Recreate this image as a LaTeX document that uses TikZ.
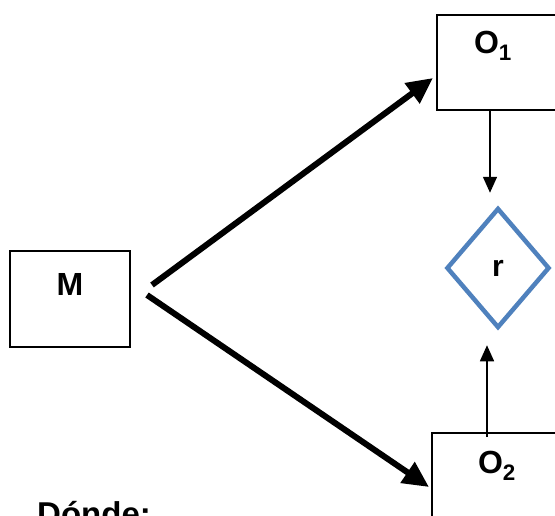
\documentclass[tikz,border=0pt]{standalone}
\usepackage{fontspec}
\setmainfont{Liberation Sans}
\usepackage{xcolor}
\usepackage{tikz}
\usetikzlibrary{calc}
\usetikzlibrary{arrows.meta}
\usetikzlibrary{shapes.geometric}
\definecolor{azul}{RGB}{79,129,189}
\tikzset{caja/.style={draw, line width=2pt, minimum width=120pt, minimum height=96pt, inner sep=0pt, outer sep=0pt}}

\begin{document}
\begin{tikzpicture} [x=1pt, y=-1pt, font=\bfseries\fontsize{32}{38}\selectfont,
  gruesa/.style={line width=6pt, -{Triangle[length=26pt,width=24pt]}},
  fina/.style={line width=1.5pt, -{Triangle[length=16pt,width=14pt]}}]
\useasboundingbox (0,0) rectangle (555,515);
\node[caja, label={[yshift=14.5pt]center:M}] (M) at (70,298.5) {};
\node[caja, minimum width=130pt, minimum height=95pt, label={[xshift=-9pt,yshift=16.5pt]center:O\textsubscript{1}}] (O1) at (502,62.5) {};
\node[caja, minimum width=130pt, minimum height=97pt, label={[yshift=15.5pt]center:O\textsubscript{2}}] (O2) at (497,481.5) {};
\node[diamond, draw=azul, line width=4.5pt, minimum width=103pt, minimum height=120pt, inner sep=0pt, font=\bfseries\fontsize{30}{36}\selectfont] (r) at (498,268) {r};
\node[anchor=base west, inner sep=0pt, font=\bfseries\fontsize{33}{40}\selectfont] (donde) at (37,525.6) {Dónde:};
\draw[gruesa] ($(M.east)+(22,-13.5)$) -- ($(O1.west)+(-4,15.5)$);
\draw[gruesa] ($(M.east)+(17,-3.5)$) -- ($(O2.west)+(-3,5.5)$);
\draw[fina] ($(O1.south)+(-12,0)$) -- ($(r.north)+(-8,-13)$);
\draw[fina] ($(O2.north)+(-10,4)$) -- ($(r.south)+(-11,15)$);
\end{tikzpicture}
\end{document}
